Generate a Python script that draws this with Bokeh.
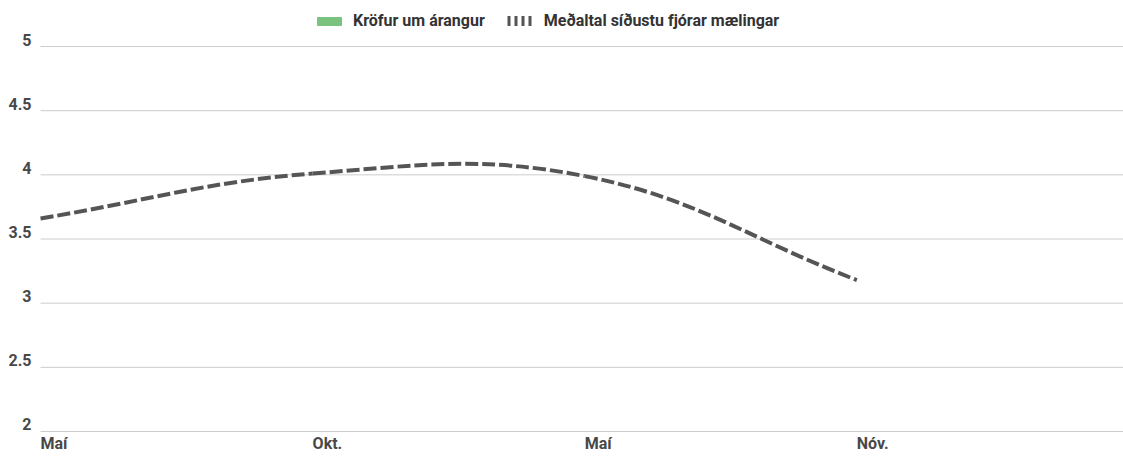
from bokeh.plotting import figure
from bokeh.models import (Range1d, Legend, LegendItem, LabelSet, ColumnDataSource)
from bokeh.core.properties import value
from bokeh.embed import file_html
from bokeh.resources import INLINE

# ---- data ----
x_labels = ["Maí", "Okt.", "Maí", "Nóv."]
x_pos = [0, 1, 2, 3]
avg_values = [3.66, 4.01, 3.99, 3.18]
y_ticks = [2, 2.5, 3, 3.5, 4, 4.5, 5]
y_tick_labels = ["2", "2.5", "3", "3.5", "4", "4.5", "5"]
series_names = ["Kröfur um árangur", "Meðaltal síðustu fjórar mælingar"]

FONT = "Roboto"
TXT = "#484848"
NAN = float("nan")

# pixel scale of the plotting area (px per unit)
sx, sy = 272.0, 128.3
X_END = 3.98
# frame spans the whole canvas; extra room on the left / bottom / top for labels & legend
x_start = -40 / sx
y_start = 2 - 26 / sy
y_end = 5 + 46 / sy

p = figure(width=1123, height=457, output_backend="svg", toolbar_location=None,
           x_range=Range1d(x_start, X_END), y_range=Range1d(y_start, y_end))
p.outline_line_color = None
p.min_border = 0
p.xaxis.visible = False
p.yaxis.visible = False
p.xgrid.grid_line_color = None
p.ygrid.grid_line_color = None

# horizontal grid lines at the y ticks, spanning the category area
p.segment(x0=[x_pos[0]] * len(y_ticks), x1=[X_END] * len(y_ticks), y0=y_ticks, y1=y_ticks,
          line_color="#cccccc", line_width=1)

# smooth curve, Chart.js-like tension 0.4 computed in pixel space
t = 0.4
n = len(avg_values)
pts = [(x_pos[i] * sx, avg_values[i] * sy) for i in range(n)]
cp_prev, cp_next = [], []
for i in range(n):
    cur = pts[i]
    prev = pts[i - 1] if i > 0 else cur
    nxt = pts[i + 1] if i < n - 1 else cur
    d01 = ((cur[0]-prev[0])**2 + (cur[1]-prev[1])**2) ** 0.5
    d12 = ((nxt[0]-cur[0])**2 + (nxt[1]-cur[1])**2) ** 0.5
    tot = d01 + d12 if d01 + d12 > 0 else 1
    fa = t * d01 / tot
    fb = t * d12 / tot
    cp_prev.append((cur[0] - fa*(nxt[0]-prev[0]), cur[1] - fa*(nxt[1]-prev[1])))
    cp_next.append((cur[0] + fb*(nxt[0]-prev[0]), cur[1] + fb*(nxt[1]-prev[1])))

x0 = [x_pos[i] for i in range(n-1)]
y0 = [avg_values[i] for i in range(n-1)]
x1 = [x_pos[i+1] for i in range(n-1)]
y1 = [avg_values[i+1] for i in range(n-1)]
cx0 = [cp_next[i][0]/sx for i in range(n-1)]
cy0 = [cp_next[i][1]/sy for i in range(n-1)]
cx1 = [cp_prev[i+1][0]/sx for i in range(n-1)]
cy1 = [cp_prev[i+1][1]/sy for i in range(n-1)]
p.bezier(x0=x0, y0=y0, x1=x1, y1=y1, cx0=cx0, cy0=cy0, cx1=cx1, cy1=cy1,
         line_color="#555555", line_width=4, line_dash="13 4")

# legend dummies (NaN data so they are not drawn in the plot)
r_green = p.rect(x=[NAN], y=[NAN], width=1, height=1, fill_color="#79c37f", line_color="#79c37f")
r_dash = p.line(x=[NAN, NAN], y=[NAN, NAN], line_color="#555555", line_width=11,
                line_dash="3 4", line_dash_offset=5)
legend = Legend(items=[LegendItem(label=series_names[0], renderers=[r_green]),
                       LegendItem(label=series_names[1], renderers=[r_dash])],
                location=(314, 427), orientation="horizontal",
                border_line_color=None, background_fill_alpha=0,
                label_text_font=FONT, label_text_font_size="16px", label_text_color="#333333",
                label_text_font_style="bold",
                glyph_width=30, glyph_height=10, spacing=20, padding=4, margin=0,
                label_standoff=9)
p.add_layout(legend)

# tick labels
xsrc = ColumnDataSource(dict(x=x_pos, y=[y_ticks[0]] * n, text=x_labels))
p.add_layout(LabelSet(x="x", y="y", text="text", source=xsrc, y_offset=-12.5,
                      text_align="left", text_baseline="middle",
                      text_font=value(FONT), text_font_size=value("16px"),
                      text_font_style="bold", text_color=TXT))
ysrc = ColumnDataSource(dict(x=[x_pos[0]] * len(y_ticks), y=y_ticks, text=y_tick_labels))
p.add_layout(LabelSet(x="x", y="y", text="text", source=ysrc, x_offset=-9, y_offset=7,
                      text_align="right", text_baseline="middle",
                      text_font=value(FONT), text_font_size=value("16px"),
                      text_font_style="bold", text_color=TXT))

open("out.html", "w").write(file_html(p, INLINE))
